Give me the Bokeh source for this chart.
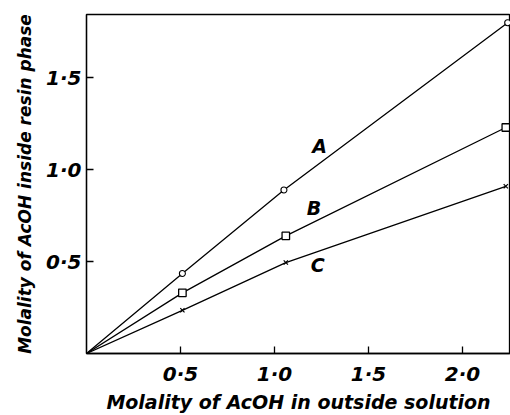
from bokeh.plotting import figure
from bokeh.models import FixedTicker, Range1d
from bokeh.embed import file_html
from bokeh.resources import INLINE
from bokeh.core.properties import value

# Data
a_x = [0.0, 0.51, 1.05, 2.24]
a_y = [0.0, 0.435, 0.89, 1.80]
b_x = [0.0, 0.51, 1.06, 2.23]
b_y = [0.0, 0.33, 0.64, 1.23]
c_x = [0.0, 0.51, 1.06, 2.23]
c_y = [0.0, 0.235, 0.495, 0.91]
curve_names = ["A", "B", "C"]
name_x = [1.24, 1.21, 1.23]
name_y = [1.13, 0.79, 0.48]
x_ticks = [0.5, 1.0, 1.5, 2.0]
x_tick_labels = ["0·5", "1·0", "1·5", "2·0"]
y_ticks = [0.5, 1.0, 1.5]
y_tick_labels = ["0·5", "1·0", "1·5"]

FONT = "DejaVu Sans"

p = figure(width=510, height=415, output_backend="svg", toolbar_location=None,
           x_range=Range1d(0, 2.255), y_range=Range1d(0, 1.845),
           min_border_left=86, min_border_right=0, min_border_top=14,
           min_border_bottom=57)
p.grid.visible = False
p.outline_line_color = "black"
p.outline_line_width = 1.3
p.background_fill_color = "white"
p.border_fill_color = "white"

lw = 1.3
p.line(a_x, a_y, line_color="black", line_width=lw)
p.line(b_x, b_y, line_color="black", line_width=lw)
p.line(c_x, c_y, line_color="black", line_width=lw)
p.scatter(a_x[1:], a_y[1:], marker="circle", size=6, fill_color="white",
          line_color="black", line_width=1.1)
p.scatter(b_x[1:], b_y[1:], marker="square", size=7.5, fill_color="white",
          line_color="black", line_width=1.3)
p.scatter(c_x[1:], c_y[1:], marker="x", size=6, line_color="black",
          line_width=1.2)

p.text(name_x, name_y, text=curve_names, text_font=value(FONT),
       text_font_style="bold italic", text_font_size="19px",
       text_align="center", text_baseline="middle", text_color="black")

for ax, ticks, labels in ((p.xaxis, x_ticks, x_tick_labels),
                          (p.yaxis, y_ticks, y_tick_labels)):
    ax.ticker = FixedTicker(ticks=ticks)
    ax.major_label_overrides = dict(zip(ticks, labels))
    ax.minor_tick_line_color = None
    ax.major_tick_in = 7
    ax.major_tick_out = 0
    ax.axis_line_width = 1.3
    ax.major_tick_line_width = 1.3
    ax.major_label_text_font = FONT
    ax.major_label_text_font_style = "bold italic"
    ax.major_label_text_font_size = "20px"
    ax.axis_label_text_font = FONT
    ax.axis_label_text_font_style = "bold italic"
    ax.axis_label_text_color = "black"
    ax.major_label_text_color = "black"

p.xaxis.axis_label_text_font_size = "19px"
p.yaxis.axis_label_text_font_size = "17px"
p.xaxis.axis_label = "Molality of AcOH in outside solution"
p.yaxis.axis_label = "Molality of AcOH inside resin phase"
p.xaxis.major_label_standoff = 8
p.xaxis.axis_label_standoff = 2
p.yaxis.major_label_standoff = 5
p.yaxis.axis_label_standoff = 8
p.yaxis.major_label_orientation = "horizontal"

open("out.html", "w").write(file_html(p, INLINE))
